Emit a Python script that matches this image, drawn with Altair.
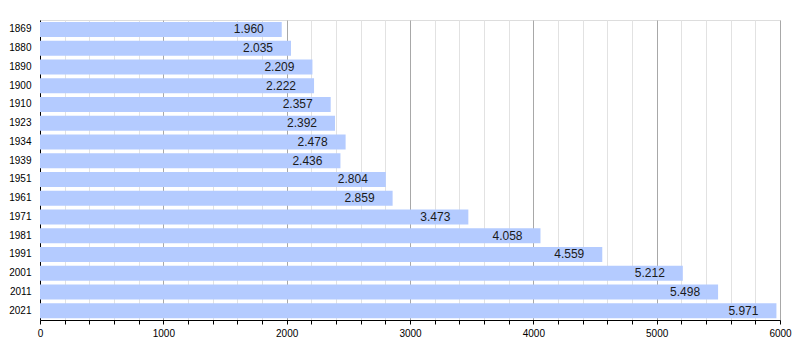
import altair as alt
import pandas as pd

years = ["1869", "1880", "1890", "1900", "1910", "1923", "1934", "1939",
         "1951", "1961", "1971", "1981", "1991", "2001", "2011", "2021"]
population = [1960, 2035, 2209, 2222, 2357, 2392, 2478, 2436,
              2804, 2859, 3473, 4058, 4559, 5212, 5498, 5971]

df = pd.DataFrame({"year": years, "pop": population})
df["label"] = [f"{v:,}".replace(",", ".") for v in population]

tick_values = list(range(0, 6001, 200))

x_enc = alt.X(
    "pop:Q",
    scale=alt.Scale(domain=[0, 6000], nice=False, zero=True),
    axis=alt.Axis(
        values=tick_values,
        tickCount=100,
        title=None,
        labelExpr="datum.value % 1000 === 0 ? datum.value : ''",
        labelOverlap=False,
        grid=True,
        gridColor={"condition": {"test": "datum.value % 1000 === 0", "value": "#a8a8a8"},
                   "value": "#e2e2e2"},
        gridWidth=1,
        domainColor="#000000",
        tickColor="#000000",
        tickSize=4,
        labelFontSize=10,
        labelFont="Liberation Sans",
        labelColor="#000000",
        labelPadding=4,
        labelFlush=False,
    ),
)

y_enc = alt.Y(
    "year:N",
    sort=years,
    scale=alt.Scale(paddingInner=0.2, paddingOuter=0.1),
    axis=alt.Axis(
        title=None,
        ticks=False,
        domainColor="#000000",
        labelFontSize=10,
        labelFont="Liberation Sans",
        labelColor="#000000",
        labelPadding=9,
        grid=False,
    ),
)

bars = alt.Chart(df).mark_bar(color="#b4cbff").encode(x=x_enc, y=y_enc)

text = alt.Chart(df).mark_text(
    align="right", baseline="middle", dx=-18, fontSize=12,
    font="Liberation Sans", color="#1a1a1a"
).encode(x=alt.X("pop:Q"), y=alt.Y("year:N", sort=years), text="label:N")

chart = alt.layer(bars, text).properties(
    width=740, height=300,
    autosize=alt.AutoSizeParams(type="none"),
    padding={"left": 32, "top": 12, "right": 12, "bottom": 32},
).configure_view(stroke=None).configure(background="#ffffff")

chart.save("out.html", embed_options={"renderer": "svg", "actions": False})
